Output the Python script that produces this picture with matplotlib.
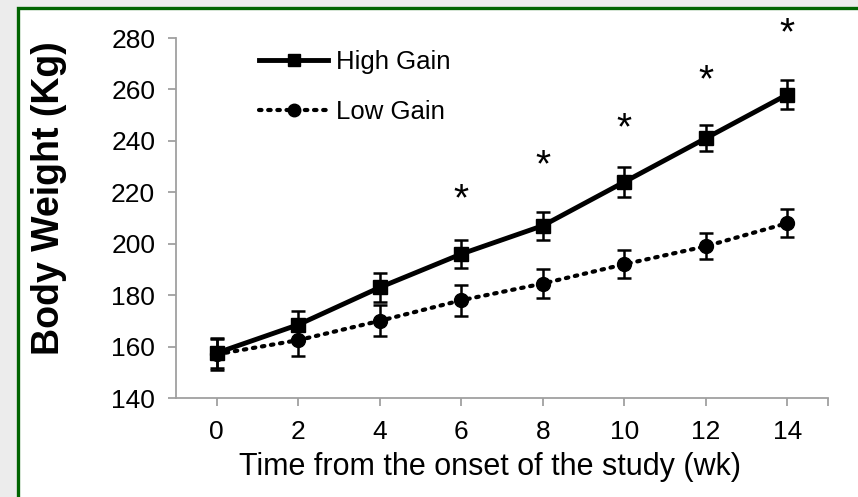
import matplotlib
matplotlib.use("Agg")
import matplotlib.pyplot as plt
from matplotlib.patches import Rectangle
from matplotlib.lines import Line2D

weeks = [0, 2, 4, 6, 8, 10, 12, 14]
high_gain = [157.5, 168.5, 183, 196, 207, 224, 241, 258]
high_err = [6, 5.5, 5.5, 5.5, 5.5, 6, 5, 5.5]
low_gain = [157, 162.5, 170, 178, 184.5, 192, 199, 208]
low_err = [6, 6, 6, 6, 5.5, 5.5, 5, 5.5]
star_weeks = [6, 8, 10, 12, 14]
star_y = [217, 230, 244.5, 263, 281.5]
xticks = [0, 2, 4, 6, 8, 10, 12, 14]
yticks = [140, 160, 180, 200, 220, 240, 260, 280]

plt.rcParams['font.family'] = ['Liberation Sans', 'DejaVu Sans']

W, H = 858, 497
fig = plt.figure(figsize=(W / 100, H / 100), dpi=100)
fig.patch.set_facecolor('#ececec')
fig.patches.append(Rectangle((17.5 / W, -0.05), 1.1, 1 - 7.5 / H + 0.05,
                             transform=fig.transFigure, facecolor='white',
                             edgecolor='#006400', linewidth=2.4, zorder=-10))

ax = fig.add_axes([176 / W, 1 - 398 / H, (828 - 176) / W, (398 - 38) / H])
ax.set_facecolor('none')

dot_style = (0, (0.6, 1.6))
ax.errorbar(weeks, low_gain, yerr=low_err, color='black', linestyle=dot_style,
            linewidth=3.0, dash_capstyle='round', marker='o', markersize=10,
            capsize=5, elinewidth=1.8, capthick=1.8, zorder=3)
ax.errorbar(weeks, high_gain, yerr=high_err, color='black', linestyle='-',
            linewidth=3.5, marker='s', markersize=10,
            capsize=5, elinewidth=1.8, capthick=1.8, zorder=4)

for xw, yv in zip(star_weeks, star_y):
    ax.text(xw, yv, '*', ha='center', va='center', fontsize=28, clip_on=False)

ax.set_xlim(-1, 15)
ax.set_ylim(140, 280)
ax.set_xticks(xticks)
ax.set_xticks([15], minor=True)
ax.set_yticks(yticks)
for s in ['top', 'right']:
    ax.spines[s].set_visible(False)
for s in ['left', 'bottom']:
    ax.spines[s].set_color('#a0a0a0')
    ax.spines[s].set_linewidth(1.3)
ax.tick_params(axis='both', which='both', color='#a0a0a0', width=1.3, length=6,
               labelsize=19, labelcolor='black')
ax.tick_params(axis='x', pad=9.5)
ax.tick_params(axis='y', pad=9)

ax.set_xlabel('Time from the onset of the study (wk)', fontsize=22, va='center')
ax.xaxis.set_label_coords(0.482, -0.192)
ax.set_ylabel('Body Weight (Kg)', fontsize=27, fontweight='bold', va='center')
ax.yaxis.set_label_coords(-0.195, 0.555)

h_high = Line2D([], [], color='black', linestyle='-', linewidth=3.5, marker='s', markersize=9)
h_low = Line2D([], [], color='black', linestyle=dot_style, linewidth=3.0,
               dash_capstyle='round', marker='o', markersize=9)
leg = ax.legend([h_high, h_low], ['High Gain', 'Low Gain'], loc='upper left',
                bbox_to_anchor=((259 - 176) / 652, (398 - 50) / 360),
                frameon=False, fontsize=18.5, handlelength=2.7, handletextpad=0.3,
                labelspacing=1.02, borderpad=0, borderaxespad=0)

fig.savefig('out.png', dpi=100, facecolor=fig.get_facecolor())
